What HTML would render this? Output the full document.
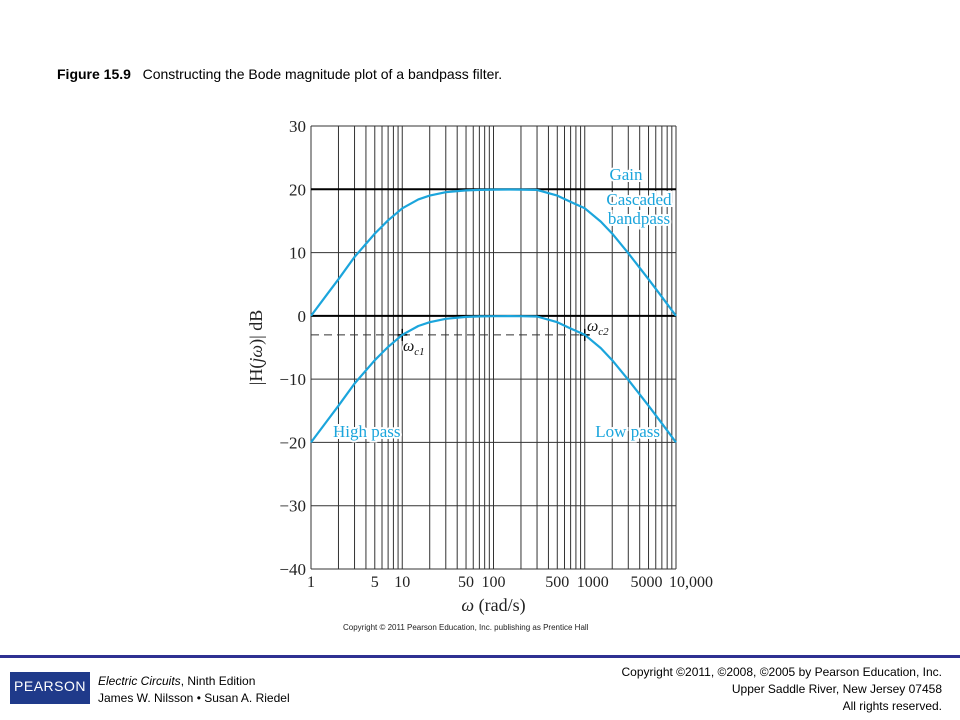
<!DOCTYPE html>
<html><head><meta charset="utf-8"><style>
body{margin:0;width:960px;height:720px;background:#fff;position:relative;overflow:hidden;font-family:"Liberation Sans",sans-serif}
.abs{position:absolute}
</style></head><body>
<div class="abs" style="left:57px;top:66px;font-size:14px;color:#000"><b>Figure 15.9</b>&nbsp;&nbsp;&nbsp;Constructing the Bode magnitude plot of a bandpass filter.</div>
<svg class="abs" style="left:0;top:0" width="960" height="720" id="chart"></svg>
<div class="abs" style="left:343px;top:623px;font-size:8px;color:#222">Copyright © 2011 Pearson Education, Inc. publishing as Prentice Hall</div>
<div class="abs" style="left:0;top:655px;width:960px;height:3px;background:#2e3192"></div>
<div class="abs" style="left:10px;top:672px;width:80px;height:32px;background:#1f3a8a;color:#fff;font-size:14px;text-align:center;line-height:28px;letter-spacing:0.5px">PEARSON</div>
<div class="abs" style="left:98px;top:673px;font-size:12px;line-height:17px;color:#000"><i>Electric Circuits</i>, Ninth Edition<br>James W. Nilsson • Susan A. Riedel</div>
<div class="abs" style="right:18px;top:664px;font-size:12px;line-height:17px;color:#000;text-align:right">Copyright ©2011, ©2008, ©2005 by Pearson Education, Inc.<br>Upper Saddle River, New Jersey 07458<br>All rights reserved.</div>
<script>
const freqs=[1,1.5,2,3,5,7,10,15,20,30,50,70,100,150,200,300,500,700,1000,1500,2000,3000,5000,7000,10000];
const bandpass=[-20,-16.6,-14.2,-10.7,-7,-4.9,-3,-1.6,-1,-0.46,-0.17,-0.09,-0.05,-0.04,-0.05,-0.1,-1,-2,-3,-5.1,-7,-10.1,-14.2,-17.0,-20];
const gainDb=20;
const cornerFreqs=[10,1000];
const yTicks=[30,20,10,0,-10,-20,-30,-40];
const xTickVals=[1,5,10,50,100,500,1000,5000,10000];
const xTickLabels=["1","5","10","50","100","500","1000","5000","10,000"];
const X0=311,X1=676,Y30=126,Y40=569;
const xs=w=>X0+(X1-X0)*Math.log10(w)/4;
const ys=d=>Y30+(30-d)*(Y40-Y30)/70;
const svg=document.getElementById('chart');const NS="http://www.w3.org/2000/svg";
function mk(t,a,p){const e=document.createElementNS(NS,t);for(const k in a)e.setAttribute(k,a[k]);(p||svg).appendChild(e);return e;}
for(let d=0;d<4;d++)for(let m=1;m<=10;m++){if(m==10&&d<3)continue;const w=m*Math.pow(10,d);
const l=mk('line',{x1:xs(w),x2:xs(w),y1:Y30,y2:Y40,stroke:'#333','stroke-width':1});

}
yTicks.forEach(v=>{const thick=(v==20||v==0);
const l=mk('line',{x1:X0,x2:X1,y1:ys(v),y2:ys(v),stroke:thick?'#000':'#333','stroke-width':thick?2:1});


const t=mk('text',{x:X0-5,y:ys(v)+6,'text-anchor':'end','font-family':'Liberation Serif,serif','font-size':17,fill:'#222'});
t.textContent=(v<0?'\u2212'+(-v):v);

});
xTickVals.forEach((v,i)=>{let dx=0;if(v==1000)dx=8;if(v==10000)dx=15;if(v==5000)dx=-2;
const t=mk('text',{x:xs(v)+dx,y:Y40+18,'text-anchor':'middle','font-family':'Liberation Serif,serif','font-size':16,fill:'#222',stroke:'#fff','stroke-width':3,'paint-order':'stroke'});
t.textContent=xTickLabels[i];

});
const dl=mk('line',{x1:X0,x2:xs(cornerFreqs[1]),y1:ys(-3),y2:ys(-3),stroke:'#333','stroke-width':1,'stroke-dasharray':'8,5'});


cornerFreqs.forEach(f=>{const m=mk('path',{d:`M${xs(f)-5},${ys(-3)}h10M${xs(f)},${ys(-3)-6}v12`,stroke:'#000','stroke-width':1.5});

});
function curve(off,name){const d=freqs.map((f,i)=>(i?'L':'M')+xs(f).toFixed(1)+','+ys(bandpass[i]+off).toFixed(1)).join('');
const p=mk('path',{d:d,fill:'none',stroke:'#1ba5dc','stroke-width':2.2,'stroke-linejoin':'round'});

}
curve(0,'bandpass-curve');curve(gainDb,'cascaded-gain-curve');
const labs=[["Gain",626,180,'middle'],["Cascaded",639,205,'middle'],["bandpass",639,224,'middle'],["High pass",333,437,'start'],["Low pass",660,437,'end']];
labs.forEach(a=>{const t=mk('text',{x:a[1],y:a[2],'text-anchor':a[3],'font-family':'Liberation Serif,serif','font-size':17,fill:'#1ba5dc',stroke:'#fff','stroke-width':4,'paint-order':'stroke'});
t.textContent=a[0];

});
const wl=[["c1",403,351],["c2",587,331]];
wl.forEach(a=>{const t=mk('text',{x:a[1],y:a[2],'font-family':'Liberation Serif,serif','font-size':16,'font-style':'italic',fill:'#111',stroke:'#fff','stroke-width':3,'paint-order':'stroke'});
t.innerHTML='\u03c9<tspan font-size="11" dy="4">'+a[0]+'</tspan>';

});
const xt=mk('text',{x:xs(100),y:Y40+42,'text-anchor':'middle','font-family':'Liberation Serif,serif','font-size':18,fill:'#222'});
xt.innerHTML='<tspan font-style="italic">\u03c9</tspan> (rad/s)';


const yt=mk('text',{x:0,y:0,'text-anchor':'middle','font-family':'Liberation Serif,serif','font-size':18,fill:'#222',transform:`translate(262,${ys(-5)}) rotate(-90)`});
yt.innerHTML='|H(<tspan font-style="italic">j\u03c9</tspan>)| dB';


</script>
</body></html>
